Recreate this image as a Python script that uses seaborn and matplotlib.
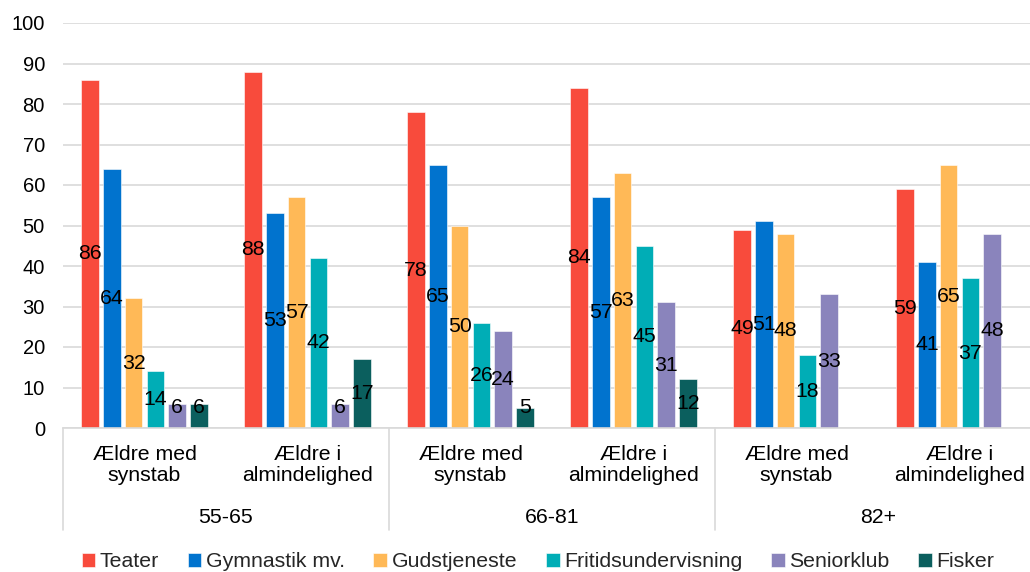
import numpy as np
import pandas as pd
import matplotlib
matplotlib.use("Agg")
import matplotlib.pyplot as plt
import seaborn as sns

# Data ------------------------------------------------------------------
age_groups = ["55-65", "66-81", "82+"]
subgroups = ["Ældre med\nsynstab", "Ældre i\nalmindelighed"]
series = ["Teater", "Gymnastik mv.", "Gudstjeneste",
          "Fritidsundervisning", "Seniorklub", "Fisker"]

teater = [86, 88, 78, 84, 49, 59]
gymnastik = [64, 53, 65, 57, 51, 41]
gudstjeneste = [32, 57, 50, 63, 48, 65]
fritid = [14, 42, 26, 45, 18, 37]
seniorklub = [6, 6, 24, 31, 33, 48]
fisker = [6, 17, 5, 12, np.nan, np.nan]

colors = ["#F84B3C", "#0173CE", "#FFB957", "#00ADB6", "#8A84BC", "#0B5F5E"]

# Long-form table: one row per (category, activity)
cat_keys = [f"{g}|{s}" for g in age_groups for s in subgroups]
values = [teater, gymnastik, gudstjeneste, fritid, seniorklub, fisker]
rows = []
for name, vals in zip(series, values):
    for key, v in zip(cat_keys, vals):
        rows.append({"kategori": key, "aktivitet": name, "andel": v})
df = pd.DataFrame(rows)

# Styling ---------------------------------------------------------------
sns.set_theme(style="white")
plt.rcParams["font.family"] = ["Liberation Sans", "DejaVu Sans"]
FS_TICK = 14.5
FS = 15.3
GRID = "#D9D9D9"

fig = plt.figure(figsize=(10.30, 5.72), dpi=100)
ax = fig.add_axes([63 / 1030, 1 - 428 / 572, 978 / 1030, 405 / 572])

sns.barplot(data=df, x="kategori", y="andel", hue="aktivitet",
            order=cat_keys, hue_order=series, palette=colors,
            saturation=1, width=0.8, gap=0.2, errorbar=None, ax=ax,
            edgecolor="white", linewidth=0.4)

ax.set_xlim(-0.5, len(cat_keys) - 0.5)
ax.set_ylim(0, 100)
ax.set_yticks(np.arange(0, 101, 10))
ax.tick_params(axis="y", labelsize=FS_TICK, length=0, pad=13,
               labelcolor="black")
ax.set_xticks([])
ax.set_xlabel("")
ax.set_ylabel("")
ax.yaxis.grid(True, color=GRID, linewidth=1.2)
ax.set_axisbelow(True)
for side in ["left", "right", "top"]:
    ax.spines[side].set_visible(False)
ax.spines["bottom"].set_color(GRID)
ax.spines["bottom"].set_linewidth(1.2)

# Value labels in the middle of each bar
for cont in ax.containers:
    for p in cont.patches:
        h = p.get_height()
        if h is None or np.isnan(h) or h == 0:
            continue
        xc = p.get_x() + p.get_width() / 2
        ax.text(xc, max(h / 2, 5.0), f"{h:.0f}", ha="center", va="center",
                fontsize=FS, color="black")

# Two-level category axis
xt = ax.get_xaxis_transform()
for i, key in enumerate(cat_keys):
    ax.text(i, -0.092, key.split("|")[1], transform=xt, ha="center",
            va="center", fontsize=FS, linespacing=1.12, color="black")
for j, g in enumerate(age_groups):
    ax.text(2 * j + 0.5, -0.22, g, transform=xt, ha="center", va="center",
            fontsize=FS, color="black")
for xb in [-0.5, 1.5, 3.5, 5.5]:
    ax.plot([xb, xb], [0, -0.252], transform=xt, color=GRID,
            linewidth=1.2, clip_on=False)

# Legend along the bottom edge
handles, labels = ax.get_legend_handles_labels()
ax.legend_.remove()
fig.legend(handles, labels, loc="center", bbox_to_anchor=(0.522, 0.018),
           ncol=6, frameon=False, fontsize=FS, handlelength=0.65,
           handleheight=0.65, handletextpad=0.2, columnspacing=1.35,
           borderpad=0.1)

fig.savefig("out.png", dpi=100)
